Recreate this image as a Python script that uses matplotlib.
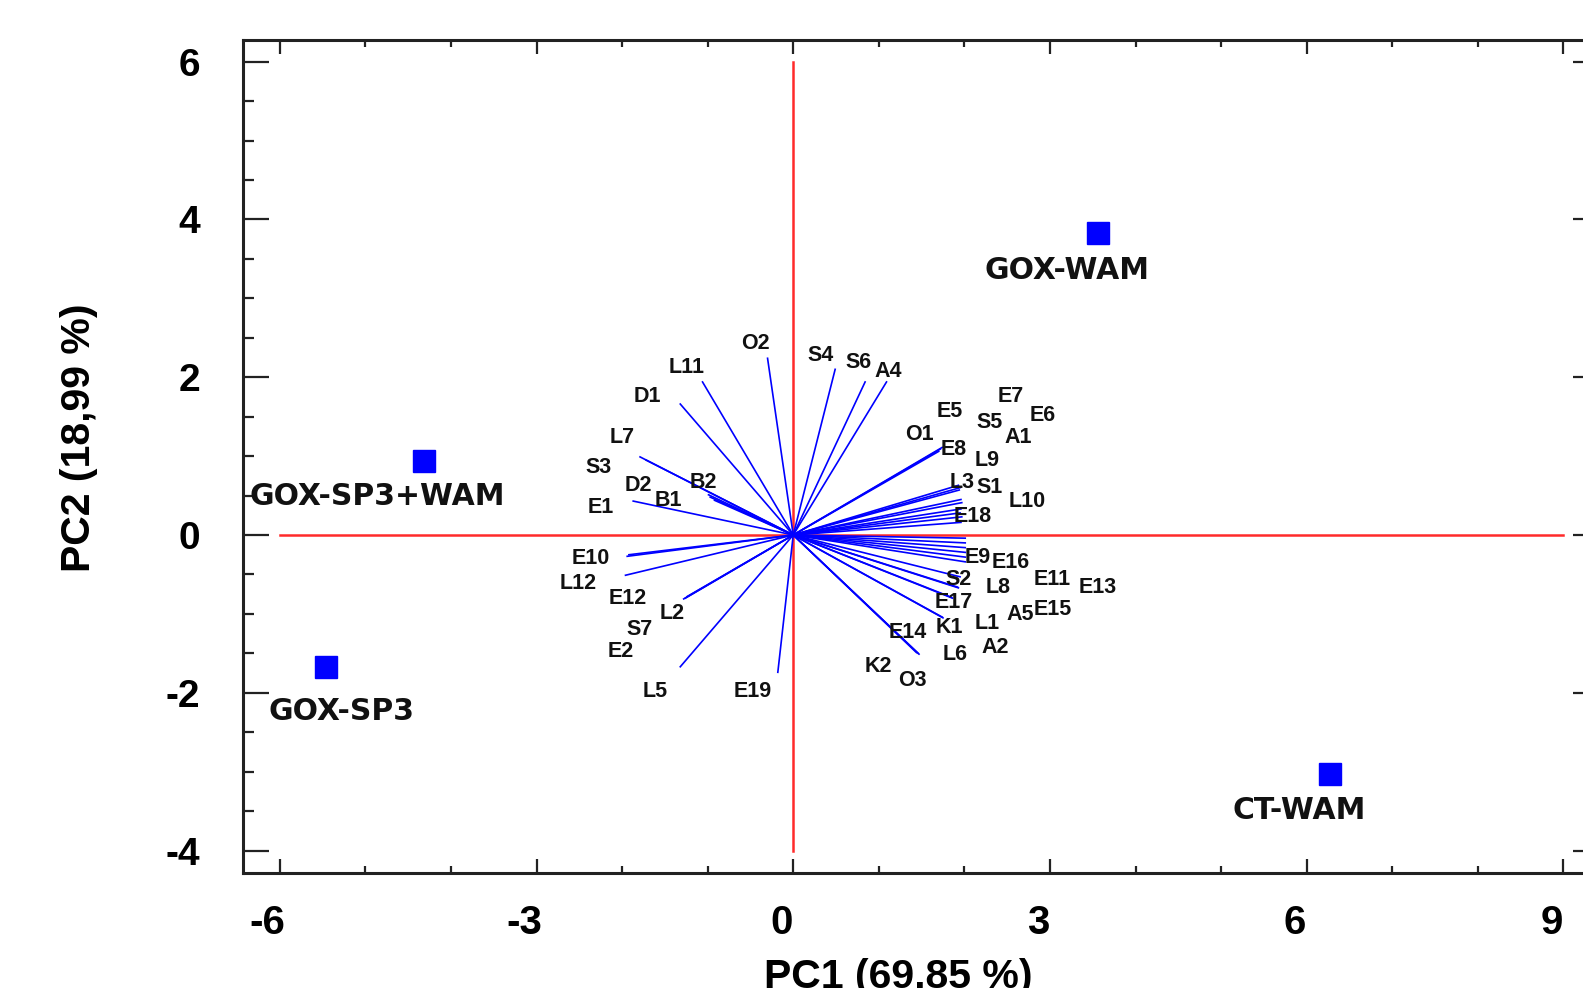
import numpy as np
import matplotlib
matplotlib.use("Agg")
import matplotlib.pyplot as plt
from matplotlib.ticker import MultipleLocator
from matplotlib.transforms import ScaledTranslation

plt.rcParams['axes.unicode_minus'] = False

# sample scores (PC1, PC2)
samples = ["GOX-WAM", "GOX-SP3+WAM", "GOX-SP3", "CT-WAM"]
pc1_scores = [3.56, -4.31, -5.46, 6.27]
pc2_scores = [3.83, 0.94, -1.67, -3.03]

# variable loadings (end of each blue vector)
variables = ["O2", "L11", "D1", "L7", "S3", "D2", "B1", "B2", "E1",
             "S4", "S6", "A4", "E5", "O1", "E8", "L9", "L3", "S5", "A1",
             "S1", "E7", "E6", "L10", "E18",
             "E15", "E13", "E11", "A5", "E16", "E9", "S2", "L8", "L1",
             "E17", "A2", "K1", "L6", "E14", "K2", "O3",
             "E10", "E12", "L12", "L2", "S7", "E2", "L5", "E19"]
load_pc1 = [-0.30, -1.06, -1.32, -1.79, -1.72, -0.97, -0.92, -0.99, -1.87,
            0.49, 0.84, 1.09, 1.70, 1.72, 1.74, 1.93, 1.95, 1.94, 1.96,
            1.97, 1.96, 1.95, 1.97, 1.96,
            2.01, 2.01, 2.01, 2.01, 2.01, 2.01, 1.95, 1.93, 1.92,
            1.86, 1.85, 1.75, 1.74, 1.46, 1.44, 1.47,
            -1.94, -1.92, -1.96, -1.28, -1.26, -1.24, -1.32, -0.18]
load_pc2 = [2.24, 1.94, 1.66, 0.99, 0.95, 0.48, 0.44, 0.51, 0.43,
            2.10, 1.94, 1.94, 1.06, 1.09, 1.11, 0.63, 0.60, 0.57, 0.45,
            0.41, 0.33, 0.28, 0.23, 0.16,
            -0.04, -0.10, -0.16, -0.22, -0.28, -0.34, -0.53, -0.67, -0.66,
            -0.80, -0.79, -1.05, -1.04, -1.50, -1.49, -1.51,
            -0.27, -0.25, -0.51, -0.81, -0.80, -0.78, -1.67, -1.74]

# where each variable name is written (text placement, data units)
var_label_pos = {
    "O2": (-0.44, 2.43), "L11": (-1.24, 2.12), "D1": (-1.71, 1.75),
    "L7": (-2.00, 1.23), "S3": (-2.28, 0.85), "D2": (-1.81, 0.63),
    "B1": (-1.46, 0.44), "B2": (-1.05, 0.67), "E1": (-2.25, 0.35),
    "S4": (0.32, 2.28), "S6": (0.76, 2.19), "A4": (1.11, 2.07),
    "E5": (1.83, 1.56), "E7": (2.54, 1.75), "E6": (2.92, 1.52),
    "S5": (2.30, 1.43), "O1": (1.48, 1.27), "A1": (2.63, 1.23),
    "E8": (1.87, 1.08), "L9": (2.27, 0.95), "L3": (1.97, 0.67),
    "S1": (2.30, 0.60), "L10": (2.73, 0.42), "E18": (2.10, 0.23),
    "E9": (2.15, -0.28), "E16": (2.54, -0.35), "S2": (1.93, -0.57),
    "E11": (3.03, -0.57), "E13": (3.56, -0.67), "L8": (2.39, -0.67),
    "E17": (1.87, -0.85), "A5": (2.65, -1.01), "E15": (3.03, -0.95),
    "K1": (1.83, -1.17), "L1": (2.27, -1.12), "E14": (1.34, -1.24),
    "L6": (1.89, -1.52), "A2": (2.36, -1.43), "K2": (0.99, -1.67),
    "O3": (1.39, -1.84),
    "E10": (-2.37, -0.30), "L12": (-2.51, -0.62), "E12": (-1.93, -0.81),
    "L2": (-1.41, -0.99), "S7": (-1.79, -1.20), "E2": (-2.02, -1.48),
    "L5": (-1.61, -1.98), "E19": (-0.47, -1.98),
}
# offsets (points) of sample names from their squares
sample_offsets = [(-22, -27), (-34, -26), (11, -32), (-22, -26)]

fig = plt.figure(figsize=(15.83, 9.88), dpi=100)
ax = fig.add_axes([0.1535, 0.1164, 0.8566, 0.8431])

# red reference axes
ax.plot([-6, 9], [0, 0], color='#ff2a2a', lw=1.8, zorder=1)
ax.plot([0, 0], [-4, 6], color='#ff2a2a', lw=1.8, zorder=1)

# loading vectors
for name, x, y in zip(variables, load_pc1, load_pc2):
    ax.plot([0, x], [0, y], color='#0000ff', lw=1.2, zorder=2)
    lx, ly = var_label_pos[name]
    ax.text(lx, ly, name, ha='center', va='center', fontsize=15.5,
            fontweight='bold', family=['Liberation Sans', 'DejaVu Sans'],
            color='#111111', zorder=3)

# sample scores
ax.plot(pc1_scores, pc2_scores, 's', color='#0000ff', markersize=16,
        linestyle='none', zorder=4)
for name, x, y, off in zip(samples, pc1_scores, pc2_scores, sample_offsets):
    ax.annotate(name, (x, y), xytext=off, textcoords='offset points',
                ha='center', va='center', fontsize=21.5, fontweight='bold',
                family='DejaVu Sans', color='#111111', zorder=5)

ax.set_xlim(-6.43, 9.416)
ax.set_ylim(-4.284, 6.274)

ax.xaxis.set_major_locator(MultipleLocator(3))
ax.xaxis.set_minor_locator(MultipleLocator(1))
ax.yaxis.set_major_locator(MultipleLocator(2))
ax.yaxis.set_minor_locator(MultipleLocator(0.5))

ax.tick_params(axis='both', which='both', direction='in', top=True,
               right=True, color='#222222', width=1.6)
ax.tick_params(axis='y', which='major', length=18.5, pad=31)
ax.tick_params(axis='y', which='minor', length=8)
ax.tick_params(axis='x', which='major', length=10, pad=22)
ax.tick_params(axis='x', which='minor', length=5)

for sp in ax.spines.values():
    sp.set_linewidth(2.2)
    sp.set_color('#222222')

for lab in ax.get_yticklabels():
    lab.set_fontsize(28)
    lab.set_fontweight('bold')
    lab.set_family(['Liberation Sans', 'DejaVu Sans'])
shift = ScaledTranslation(-12 / 100, 0, fig.dpi_scale_trans)
for lab in ax.get_xticklabels():
    lab.set_fontsize(29)
    lab.set_fontweight('bold')
    lab.set_family(['Liberation Sans Narrow', 'Liberation Sans', 'DejaVu Sans'])
    lab.set_transform(lab.get_transform() + shift)

fig.text(79 / 1583, 1 - 438 / 988, "PC2 (18,99 %)", rotation=90,
         ha='center', va='center', fontsize=29.5, fontweight='bold',
         family=['Liberation Sans Narrow', 'Liberation Sans', 'DejaVu Sans'])
fig.text(898 / 1583, 1 - 958 / 988, "PC1 (69,85 %)", ha='center', va='top',
         fontsize=29.5, fontweight='bold',
         family=['Liberation Sans Narrow', 'Liberation Sans', 'DejaVu Sans'])

fig.savefig("out.png", dpi=100)
